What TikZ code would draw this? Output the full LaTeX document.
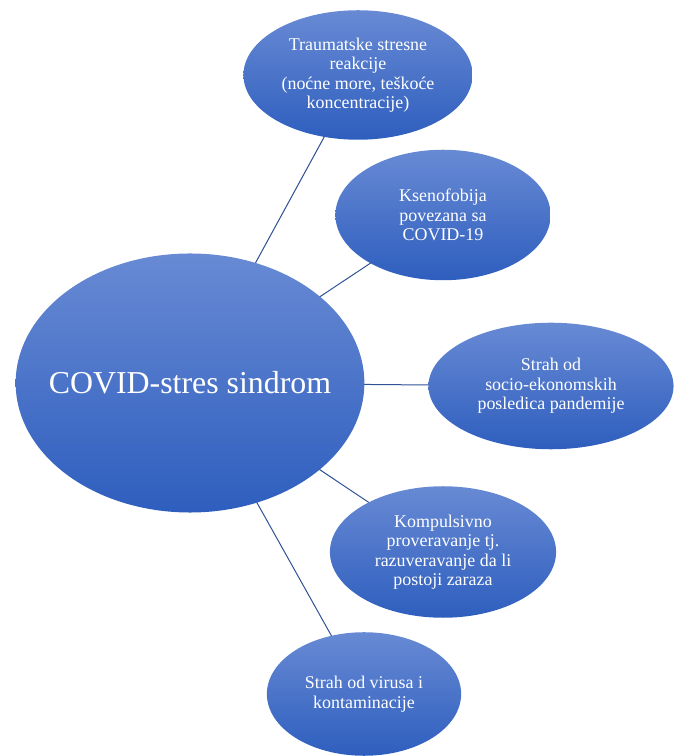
\documentclass[tikz,border=0pt]{standalone}
\usepackage{fontspec}
\setmainfont{Liberation Serif}
\usetikzlibrary{shapes.geometric}

\definecolor{bubbletop}{RGB}{104,138,212}
\definecolor{bubblebot}{RGB}{46,94,190}
\definecolor{linkblue}{RGB}{47,82,150}

\tikzset{
  bubble/.style = {shape=ellipse, inner sep=0pt, align=center,
                   top color=bubbletop, bottom color=bubblebot,
                   text=white, font=\fontsize{18}{19.5}\selectfont},
  hub/.style    = {bubble, inner xsep=-70bp, minimum width=350, minimum height=260,
                   font=\fontsize{32}{36}\selectfont},
  leaf/.style   = {bubble},
  link/.style   = {draw=linkblue, line width=1bp}
}

\begin{document}
\begin{tikzpicture}[x=1bp,y=1bp]
\useasboundingbox (0,0) rectangle (675,756);

% centre and its branches
\coordinate (c0) at (190,373);
\coordinate (c1) at (358,681);
\coordinate (c2) at (443,541);
\coordinate (c3) at (551,370);
\coordinate (c4) at (443,204);
\coordinate (c5) at (364,62);

\draw [link] (c0) -- (c1);
\draw [link] (c0) -- (c2);
\draw [link] (c0) -- (c3);
\draw [link] (c0) -- (c4);
\draw [link] (c0) -- (c5);

\node [hub] (covid) at (c0) {COVID-stres sindrom};
\node [leaf, minimum width=230, minimum height=130] (trauma) at (c1)
  {Traumatske stresne\\reakcije\\(noćne more, teškoće\\koncentracije)};
\node [leaf, minimum width=216, minimum height=131] (kseno) at (c2)
  {Ksenofobija\\povezana sa\\COVID-19};
\node [leaf, minimum width=246, minimum height=127] (socio) at (c3)
  {Strah od\\socio-ekonomskih\\posledica pandemije};
\node [leaf, minimum width=227, minimum height=132] (kompuls) at (c4)
  {Kompulsivno\\proveravanje tj.\\razuveravanje da li\\postoji zaraza};
\node [leaf, minimum width=195, minimum height=124] (virus) at (c5)
  {Strah od virusa i\\kontaminacije};
\end{tikzpicture}
\end{document}
